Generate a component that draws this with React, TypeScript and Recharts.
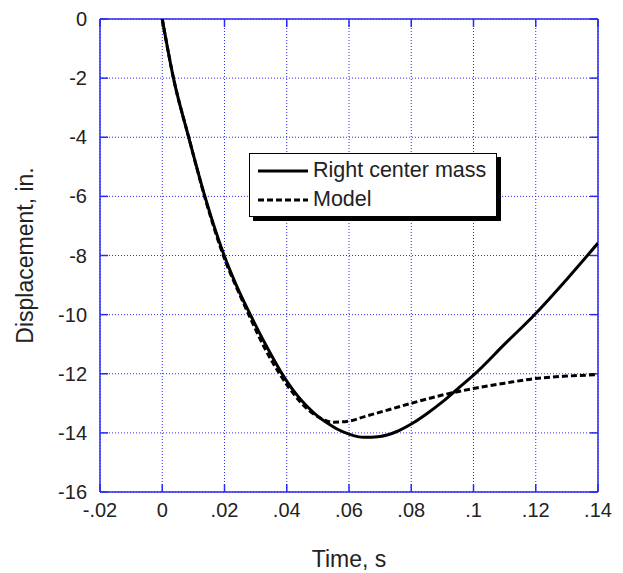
import { LineChart, Line, XAxis, YAxis, CartesianGrid, ReferenceLine, Legend } from 'recharts';

// time (s) / displacement (in.)
const massTime = [0, 0.0036, 0.0085, 0.0137, 0.0199, 0.024, 0.0283, 0.0335, 0.0385, 0.04, 0.0435, 0.0465, 0.05, 0.0529, 0.056, 0.06, 0.0647, 0.07, 0.075, 0.08, 0.085, 0.09, 0.095, 0.1, 0.11, 0.12, 0.13, 0.14];
const massDisp = [0, -2, -4, -6, -8, -9.05, -10, -11.07, -12, -12.25, -12.75, -13.1, -13.44, -13.66, -13.86, -14.04, -14.15, -14.12, -13.97, -13.7, -13.35, -12.95, -12.5, -12.05, -11.0, -9.96, -8.8, -7.58];

const modelTime = [0, 0.0036, 0.0085, 0.0136, 0.0198, 0.025, 0.028, 0.033, 0.038, 0.0425, 0.0465, 0.05, 0.055, 0.06, 0.065, 0.07, 0.08, 0.09, 0.1, 0.11, 0.12, 0.13, 0.14];
const modelDisp = [0, -2, -4, -6, -8.05, -9.35, -10.05, -11.15, -12.05, -12.72, -13.18, -13.45, -13.64, -13.6, -13.45, -13.3, -13.0, -12.72, -12.5, -12.32, -12.16, -12.08, -12.03];

const xTicks = [-0.02, 0, 0.02, 0.04, 0.06, 0.08, 0.1, 0.12, 0.14];
const xTickLabels = ['-.02', '0', '.02', '.04', '.06', '.08', '.1', '.12', '.14'];
const yTicks = [-16, -14, -12, -10, -8, -6, -4, -2, 0];

const massData = massTime.map((t, i) => ({ t, d: massDisp[i] }));
const modelData = modelTime.map((t, i) => ({ t, d: modelDisp[i] }));

const FONT = '"Liberation Sans", Arial, Helvetica, sans-serif';
const BLUE = '#2a2af0';
const X0 = -0.02;
const X1 = 0.14;
const Y0 = -16;
const Y1 = 0;
// inward tick length in data units (~8px)
const TX = 0.0026;
const TY = 0.27;

const XTitle = ({ viewBox }: any) => (
  <text x={viewBox.x + viewBox.width / 2} y={viewBox.y + 75} textAnchor="middle" fontSize={23} fontFamily={FONT} fill="#222">
    Time, s
  </text>
);

const YTitle = ({ viewBox }: any) => {
  const cx = viewBox.x + 33;
  const cy = viewBox.y + viewBox.height / 2;
  return (
    <text x={cx} y={cy} transform={`rotate(-90, ${cx}, ${cy})`} textAnchor="middle" fontSize={23} fontFamily={FONT} fill="#222">
      Displacement, in.
    </text>
  );
};

const LegendBox = () => (
  <div
    style={{
      boxSizing: 'border-box',
      width: 248,
      height: 64,
      border: '1.5px solid #000',
      background: '#fff',
      boxShadow: '4px 4px 0 #000',
      fontFamily: FONT,
      fontSize: 21.5,
      color: '#222',
      padding: '2px 0 0 8px',
    }}
  >
    <div style={{ display: 'flex', alignItems: 'center', height: 29 }}>
      <svg width={52} height={6}>
        <line x1={0} y1={3} x2={50} y2={3} stroke="#000" strokeWidth={3} />
      </svg>
      <span style={{ marginLeft: 3 }}>Right center mass</span>
    </div>
    <div style={{ display: 'flex', alignItems: 'center', height: 29 }}>
      <svg width={52} height={6}>
        <line x1={0} y1={3} x2={50} y2={3} stroke="#000" strokeWidth={3} strokeDasharray="6 3" />
      </svg>
      <span style={{ marginLeft: 3 }}>Model</span>
    </div>
  </div>
);

export default function App() {
  return (
    <div style={{ position: 'absolute', left: 0, top: 0 }}>
      <LineChart width={623} height={573} margin={{ top: 19, right: 25, left: 0, bottom: 0 }}>
        <CartesianGrid stroke={BLUE} strokeDasharray="1 2" strokeWidth={1} />
        <XAxis
          type="number"
          dataKey="t"
          domain={[X0, X1]}
          ticks={xTicks}
          tickFormatter={(v: number) => xTickLabels[xTicks.indexOf(v)] ?? String(v)}
          allowDataOverflow
          height={81}
          tickLine={false}
          tickSize={0}
          tickMargin={11}
          axisLine={{ stroke: BLUE, strokeWidth: 1.5 }}
          tick={{ fill: '#222', fontSize: 20, fontFamily: FONT }}
          label={<XTitle />}
        />
        <YAxis
          type="number"
          dataKey="d"
          domain={[Y0, Y1]}
          ticks={yTicks}
          allowDataOverflow
          width={100}
          tickLine={false}
          tickSize={0}
          tickMargin={13}
          axisLine={{ stroke: BLUE, strokeWidth: 1.5 }}
          tick={{ fill: '#222', fontSize: 20, fontFamily: FONT }}
          label={<YTitle />}
        />
        <ReferenceLine y={Y1} stroke={BLUE} strokeWidth={1.5} />
        <ReferenceLine x={X1} stroke={BLUE} strokeWidth={1.5} />
        {yTicks.map((v) => (
          <ReferenceLine key={`yl${v}`} segment={[{ x: X0, y: v }, { x: X0 + TX, y: v }]} stroke={BLUE} strokeWidth={1.5} />
        ))}
        {yTicks.map((v) => (
          <ReferenceLine key={`yr${v}`} segment={[{ x: X1 - TX, y: v }, { x: X1, y: v }]} stroke={BLUE} strokeWidth={1.5} />
        ))}
        {xTicks.map((v) => (
          <ReferenceLine key={`xb${v}`} segment={[{ x: v, y: Y0 }, { x: v, y: Y0 + TY }]} stroke={BLUE} strokeWidth={1.5} />
        ))}
        {xTicks.map((v) => (
          <ReferenceLine key={`xt${v}`} segment={[{ x: v, y: Y1 - TY }, { x: v, y: Y1 }]} stroke={BLUE} strokeWidth={1.5} />
        ))}
        <Line
          data={modelData}
          dataKey="d"
          name="Model"
          type="monotone"
          stroke="#000"
          strokeWidth={3}
          strokeDasharray="6 3"
          dot={false}
          activeDot={false}
          isAnimationActive={false}
        />
        <Line
          data={massData}
          dataKey="d"
          name="Right center mass"
          type="monotone"
          stroke="#000"
          strokeWidth={3}
          dot={false}
          activeDot={false}
          isAnimationActive={false}
        />
        <Legend
          layout="vertical"
          align="center"
          verticalAlign="middle"
          content={<LegendBox />}
          wrapperStyle={{ left: 249, top: 153, width: 252, height: 70 }}
        />
      </LineChart>
    </div>
  );
}
